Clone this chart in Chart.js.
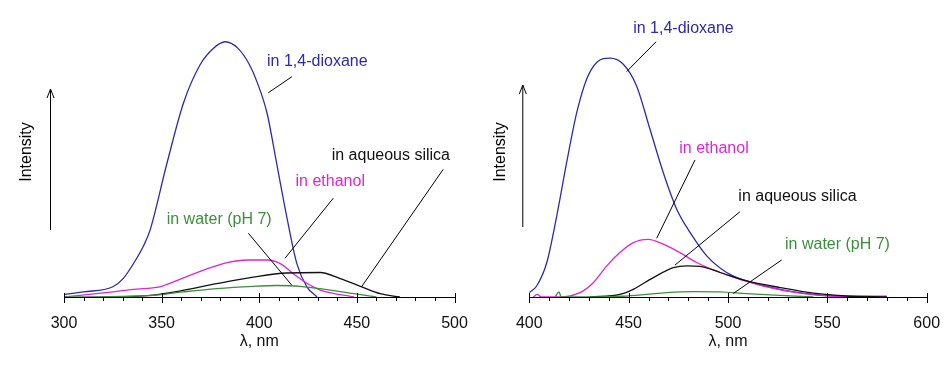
<!DOCTYPE html>
<html>
<head>
<meta charset="utf-8">
<script src="https://cdn.jsdelivr.net/npm/chart.js@4/dist/chart.umd.min.js"></script>
<style>
  html, body { margin: 0; padding: 0; background: #fff; }
  #wrap { position: relative; width: 949px; height: 366px; }
  .panel { position: absolute; top: 0; height: 366px; }
</style>
</head>
<body>
<div id="wrap">
  <div class="panel" style="left:0;width:475px"><canvas id="chart-left"></canvas></div>
  <div class="panel" style="left:475px;width:474px"><canvas id="chart-right"></canvas></div>
</div>
<script>
// left panel: 300-500 nm
const leftDioxaneWl = [300, 310, 325, 330.4, 335.5, 340.7, 344, 352.6, 361.2, 369.7, 376.6, 382.6, 389, 395, 399, 404, 409, 414.2, 419.3, 424.4, 429.6];
const leftDioxane   = [1, 2, 4, 7.3, 13, 20, 26, 52, 76, 91, 97.5, 100, 97.5, 91, 84, 72, 52, 31, 13, 4, 0];
const leftEthanolWl = [300, 313, 325, 335.5, 349, 351.5, 362.9, 373.2, 383.6, 393.9, 404.2, 411, 417.6, 424.4, 431.3, 438, 445, 448.5];
const leftEthanol   = [0, 1, 2, 3, 4, 4.6, 8, 11, 13.5, 14.5, 14.5, 13, 9, 5.4, 2.7, 1.4, 0.5, 0];
const leftSilicaWl  = [323.6, 344, 361, 378, 397, 414, 431.3, 441.5, 451.8, 462, 472];
const leftSilica    = [0, 0.6, 2.6, 5.2, 7.8, 9.4, 9.6, 7.2, 4.2, 1.3, 0];
const leftWaterWl   = [300, 344, 361, 378, 397, 409, 421, 434.7, 448.5, 460];
const leftWater     = [0, 0.5, 2, 3.3, 4.2, 4.5, 4.2, 2.9, 1.3, 0];

// right panel: 400-600 nm
const rightDioxaneWl = [400, 403.7, 408.8, 413.8, 418.8, 423.9, 428.9, 433.9, 440.6, 447.3, 454, 460.7, 467.4, 474.2, 480.9, 489.3, 499.3, 509.4, 526.2, 543, 560];
const rightDioxane   = [1.7, 4.3, 13.5, 31.7, 52.7, 72.3, 85.4, 91.9, 93.6, 91.2, 82.7, 65.8, 48.8, 34.4, 25.3, 16.1, 9.6, 6.3, 3, 1, 0];
const rightEthanolWl = [402, 404, 406, 415, 425.5, 432.2, 439, 445.6, 452.3, 459.9, 467.4, 475.8, 484.2, 496, 506, 517.8, 534.6, 551.3, 565, 580];
const rightEthanol   = [0, 1, 0, 0, 1.7, 5.6, 12.2, 17.4, 21.3, 22.6, 20.7, 17.4, 13.5, 9.6, 6.9, 4.3, 1.7, 0.4, 0.3, 0.3];
const rightSilicaWl  = [430.5, 445.6, 452.3, 462.4, 472.5, 479.2, 485.9, 496, 509.4, 526.2, 543, 559.8, 580];
const rightSilica    = [0, 1, 3, 7.6, 11.5, 12.2, 12, 9.6, 6.3, 3.7, 1.5, 0.4, 0];
const rightWaterWl   = [413, 415, 416, 430, 447.3, 459, 469, 482.5, 496, 509.4, 526, 543];
const rightWater     = [0, 2, 0, 0, 0.3, 1, 1.7, 2.1, 2, 1.3, 0.6, 0];

const COLORS = { dioxane: '#2a2ab4', ethanol: '#e022d8', silica: '#111111', water: '#3a903a' };
const FONT = '"Liberation Sans", Arial, sans-serif';

function toPoints(xs, ys) {
    return xs.map((x, i) => ({ x: x, y: ys[i] }));
}

// labels + leader lines, positions in data units
const leftNotes = [
    { text: 'in 1,4-dioxane', color: COLORS.dioxane, at: [404, 92.2], line: [[416.7, 86.3], [404.6, 80]] },
    { text: 'in aqueous silica', color: '#111', at: [437.1, 55.4], line: [[494.2, 50], [452.4, 4]] },
    { text: 'in ethanol', color: COLORS.ethanol, at: [418.6, 45.2], line: [[437.9, 38.7], [413.2, 15.2]] },
    { text: 'in water (pH 7)', color: COLORS.water, at: [352.6, 30.2], line: [[394.4, 25], [416.6, 4.7]] }
];
const rightNotes = [
    { text: 'in 1,4-dioxane', color: COLORS.dioxane, at: [452.3, 105.3], line: [[463.8, 100], [449, 88.3]] },
    { text: 'in ethanol', color: COLORS.ethanol, at: [475.5, 58.3], line: [[483.4, 53.7], [464.1, 23]] },
    { text: 'in aqueous silica', color: '#111', at: [505.2, 39.3], line: [[506, 33.4], [473.3, 12.5]] },
    { text: 'in water (pH 7)', color: COLORS.water, at: [528.7, 20.4], line: [[527, 14.5], [502.7, 1.4]] }
];

const decorPlugin = {
    id: 'decor',
    afterDraw(chart, args, opts) {
        const { ctx, chartArea, scales } = chart;
        const x = scales.x, y = scales.y;
        ctx.save();
        // axis ticks: long ones at labels, short ones below
        ctx.strokeStyle = '#000';
        ctx.lineWidth = 1;
        x.ticks.forEach(t => {
            const px = Math.round(x.getPixelForValue(t.value)) + 0.5;
            const major = t.value % 50 === 0;
            ctx.beginPath();
            ctx.moveTo(px, chartArea.bottom - (major ? 4 : 0));
            ctx.lineTo(px, chartArea.bottom + (major ? 6 : 4));
            ctx.stroke();
        });
        // Intensity arrow
        const ax = chartArea.left + opts.arrowDx + 0.5;
        ctx.beginPath();
        ctx.moveTo(ax, opts.arrowBottom);
        ctx.lineTo(ax, opts.arrowTop);
        ctx.stroke();
        ctx.beginPath();
        ctx.moveTo(ax - 3.5, opts.arrowTop + 9);
        ctx.lineTo(ax, opts.arrowTop);
        ctx.lineTo(ax + 3.5, opts.arrowTop + 9);
        ctx.stroke();
        ctx.fillStyle = '#000';
        ctx.font = '16px ' + FONT;
        ctx.textAlign = 'center';
        ctx.textBaseline = 'middle';
        ctx.save();
        ctx.translate(chartArea.left + opts.labelDx, 152);
        ctx.rotate(-Math.PI / 2);
        ctx.fillText('Intensity', 0, 0);
        ctx.restore();
        // notes
        opts.notes.forEach(n => {
            ctx.strokeStyle = '#000';
            ctx.beginPath();
            ctx.moveTo(x.getPixelForValue(n.line[0][0]), y.getPixelForValue(n.line[0][1]));
            ctx.lineTo(x.getPixelForValue(n.line[1][0]), y.getPixelForValue(n.line[1][1]));
            ctx.stroke();
            ctx.fillStyle = n.color;
            ctx.textAlign = 'left';
            ctx.fillText(n.text, x.getPixelForValue(n.at[0]), y.getPixelForValue(n.at[1]));
        });
        ctx.restore();
    }
};

function makePanel(id, xmin, xmax, series, padding, decor) {
    const ds = series.map(s => ({
        label: s.label,
        data: toPoints(s.wl, s.val),
        borderColor: s.color,
        borderWidth: 1.3,
        pointRadius: 0,
        fill: false,
        cubicInterpolationMode: 'monotone'
    }));
    return new Chart(document.getElementById(id), {
        type: 'line',
        data: { datasets: ds },
        options: {
            responsive: true,
            maintainAspectRatio: false,
            animation: false,
            layout: { padding: padding },
            plugins: { legend: { display: false }, tooltip: { enabled: false }, decor: decor },
            scales: {
                x: {
                    type: 'linear', min: xmin, max: xmax,
                    // layout padding already leaves room for the end labels
                    afterFit: s => { s.paddingLeft = 0; s.paddingRight = 0; },
                    border: { display: true, color: '#000', width: 1 },
                    grid: { drawOnChartArea: false, drawTicks: false },
                    ticks: {
                        stepSize: 10, autoSkip: false, maxRotation: 0, padding: 19,
                        color: '#111', font: { family: FONT, size: 16, lineHeight: 1 },
                        callback: v => (v % 50 === 0 ? v : '')
                    },
                    title: {
                        display: true, text: 'λ, nm', color: '#111',
                        font: { family: FONT, size: 16, lineHeight: 1 },
                        padding: { top: -17, bottom: 0 }
                    }
                },
                y: { display: false, min: 0, max: 105 }
            }
        },
        plugins: [decorPlugin]
    });
}

makePanel('chart-left', 300, 500, [
    { label: 'in water (pH 7)', wl: leftWaterWl, val: leftWater, color: COLORS.water },
    { label: 'in aqueous silica', wl: leftSilicaWl, val: leftSilica, color: COLORS.silica },
    { label: 'in ethanol', wl: leftEthanolWl, val: leftEthanol, color: COLORS.ethanol },
    { label: 'in 1,4-dioxane', wl: leftDioxaneWl, val: leftDioxane, color: COLORS.dioxane }
], { left: 64, right: 20.5, top: 29, bottom: 16 },
   { notes: leftNotes, arrowDx: -14, arrowTop: 89, arrowBottom: 230, labelDx: -37 });

makePanel('chart-right', 400, 600, [
    { label: 'in water (pH 7)', wl: rightWaterWl, val: rightWater, color: COLORS.water },
    { label: 'in aqueous silica', wl: rightSilicaWl, val: rightSilica, color: COLORS.silica },
    { label: 'in ethanol', wl: rightEthanolWl, val: rightEthanol, color: COLORS.ethanol },
    { label: 'in 1,4-dioxane', wl: rightDioxaneWl, val: rightDioxane, color: COLORS.dioxane }
], { left: 54.3, right: 22.3, top: 29, bottom: 16 },
   { notes: rightNotes, arrowDx: -7, arrowTop: 85, arrowBottom: 227, labelDx: -29 });
</script>
</body>
</html>
